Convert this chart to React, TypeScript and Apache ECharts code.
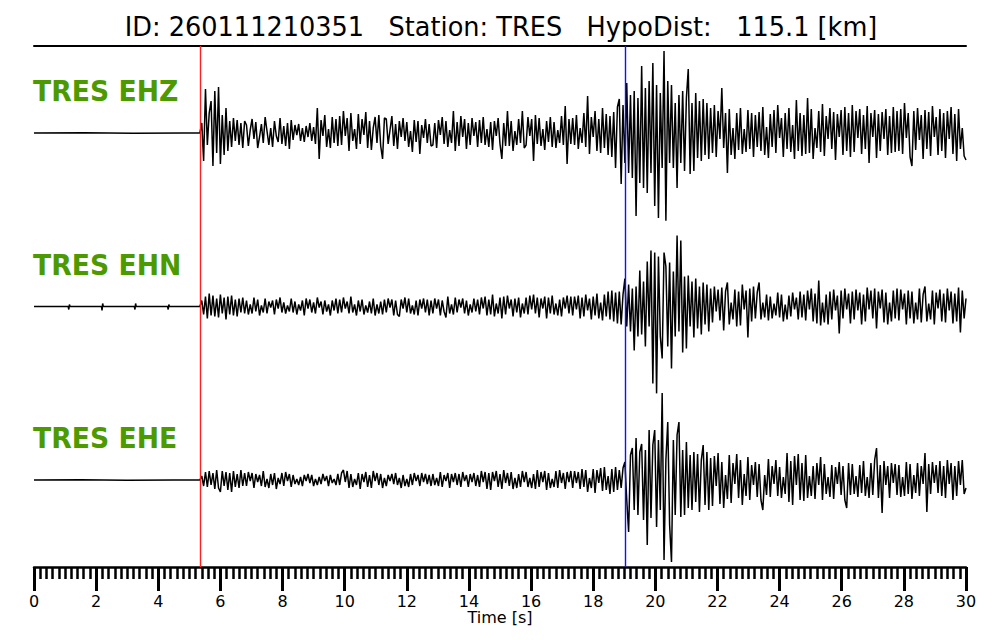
import React, { useEffect, useRef } from "react";
import * as echarts from "echarts";

const TITLE = "ID: 260111210351   Station: TRES   HypoDist:   115.1 [km]";
const CHANNELS = ["TRES EHZ", "TRES EHN", "TRES EHE"];
const T_MIN = 0;
const T_MAX = 30;
const T_TICK = 2;
const P_PICK = 5.34;
const S_PICK = 19.02;
const ONSET = 5.34;
const DT = 0.06;

const EHZ_PRE: [number, number][] = [[0, 0], [1.6, 0.15], [3.2, -0.15], [4.8, 0.1]];
const EHN_PRE: [number, number][] = [
  [0, 0], [1.1, 0], [1.12, -3], [1.14, 2], [1.16, 0], [2.17, 0], [2.19, -4], [2.21, 3], [2.23, 0],
  [3.23, 0], [3.25, -3], [3.27, 3], [3.29, 0], [4.3, 0], [4.32, -3], [4.34, 2], [4.36, 0],
];
const EHE_PRE: [number, number][] = [[0, 0], [1.5, 0.15], [3, -0.15], [4.5, 0.1]];

const EHZ_AMP = [
  0, 10, -28, 44, -12, 20, 32, -33, 42, -20, 46, -31, 18, -22, 25, -18, 12, -14, 15, -8, 13, -12, 10, -15, 12,
  8, -13, 3, 14, -6, 11, -15, -4, 9, -10, 16, 2, -12, 5, -14, 12, -3, -9, 15, -11, 7, -13, 10, -16, 13,
  -7, 8, -2, 9, -8, 5, -9, 7, -4, 10, -8, 6, -11, 25, -26, 13, -3, 18, -14, 4, -15, 16, -10, 14, -13,
  17, -12, 22, -3, 15, -18, 20, -8, 4, -16, 19, -11, 14, -2, 21, -15, 12, -17, 5, 16, -10, 18, -13, -26, 15,
  14, -11, 3, 17, -13, 9, -16, 12, -4, 15, -8, 11, -14, 2, -19, 13, -9, 12, -21, 8, -5, 14, -10, 9, -13,
  -12, 10, -15, 13, -2, 16, -11, 12, -14, 3, -10, 22, -18, 11, -13, 17, -4, 14, -16, 10, -12, 15, -3, 11, -14,
  13, -10, 16, -12, 4, -14, 11, -17, 12, -3, 15, -11, -26, 10, -13, 22, -13, 12, -18, 2, -12, 14, -10, 22, -15,
  -12, 16, -3, 14, -28, 18, -11, 15, -13, 4, -17, 12, -9, 16, -14, 11, -15, 3, -10, 17, -12, 27, -31, 14, -11,
  15, -12, 18, -16, 5, -10, 20, -14, 37, -21, 16, -4, 22, -18, 14, -20, 25, -15, 19, -22, 17, -24, 21, -35, 26,
  34, -51, 28, -30, 50, -40, 38, -45, 42, -83, 35, -50, 67, -55, 45, -60, 52, -40, 70, -73, 48, -85, 40, -35, 82,
  -88, 52, -30, 48, -35, 30, -55, 38, -30, 42, -38, 35, 64, -41, 30, -38, 40, -25, 32, -28, 34, -22, 30, -26, 25,
  -20, 28, -24, 22, -6, 45, -15, 20, -40, 24, -22, 5, -26, 20, -17, 25, -21, 4, -19, 23, -16, 20, -24, 18, -14,
  21, -18, 26, -22, 6, -25, 19, -14, 23, -20, 28, -5, 15, -24, 20, -16, 25, -19, 8, -26, 33, -18, 20, -23, 18,
  -21, 35, -20, 24, -26, 5, -15, 22, -19, 29, -23, 17, -6, 25, -16, 21, -27, 19, -4, 23, -22, 26, -18, 20, -24,
  28, -19, 22, -5, 24, -21, 18, -16, 27, -30, 20, -4, 23, -25, 19, -18, 21, -6, 24, -22, 17, -20, 26, -19, 22,
  -18, 24, -21, 30, -5, 20, -24, -33, 22, -17, 25, -7, 18, -26, 23, -16, 21, -23, 27, -4, 16, -22, 24, -18, 20,
  -25, 22, -6, 26, -21, 19, -28, 24, -16, 5, -23, -27,
];

const EHN_AMP = [
  0, 6, -8, 10, -12, 13, -9, 11, -10, 8, -11, 12, -7, 9, -13, 10, -8, 11, -9, 7, -10, 8, -6, 9, -7,
  6, -8, 2, -7, 9, -5, 7, -9, 1, -6, 8, -7, 5, -1, 6, -8, 7, -2, 9, -6, 4, -7, 1, -5, 8,
  -6, 5, -8, 2, -4, 6, -9, 8, -2, 7, -6, 4, -7, 9, -1, 5, -8, 6, -5, 2, -9, 6, -4, 8, -7,
  7, -6, 9, -2, 5, -7, 10, -6, 2, -9, 6, -5, 7, -8, 1, -6, 5, -7, 8, -9, 2, -7, 5, -8, 7,
  -6, 8, -1, 7, -9, 6, -8, -10, 7, -2, 9, -6, 8, -7, 1, -8, 6, -9, 7, -2, 8, -6, 7, -9, 6,
  -7, 8, -2, 7, -9, 6, -5, -11, 10, -7, 2, -8, 9, -6, 7, -1, 8, -7, 6, -9, 2, -6, 8, -5, 7,
  -8, 9, -2, 10, -9, 7, -8, 12, -10, 3, -7, 9, -12, 10, -8, 11, -2, 7, -10, 8, -6, 9, -11, 3, -7,
  9, -8, 11, -3, 12, -7, 9, -11, 8, -2, 10, -12, 9, -7, 11, -8, 3, -9, 7, -10, 9, -2, 11, -7, 10,
  -9, 10, -3, 11, -12, 9, -10, 12, -4, 8, -13, 10, -9, 13, -12, 4, -14, 12, -10, 15, -13, 16, -15, 14, -17,
  15, -18, 12, 28, -20, 22, -25, 18, -44, 20, -30, 36, -28, 25, -40, 45, -20, 56, -77, 54, -87, 50, -30, -52, 54,
  40, -40, 44, -62, 35, -30, 71, -25, 66, -46, 30, -42, 31, -20, 25, -31, 28, -22, 20, -28, 24, -18, 22, -25, 18,
  -16, 20, -5, 17, -14, 19, -24, 15, 24, -18, 4, -13, 17, -20, 15, -19, 22, -3, 16, -31, 18, -15, 20, -12, 14,
  24, -13, 4, -11, 12, -14, 10, -12, 3, -9, 14, -11, 12, -15, 2, -13, 11, -10, 14, -3, 9, -13, 15, -11, 12,
  -14, 16, -3, 18, -15, 13, -17, 26, -19, 4, -16, 12, -18, 15, -13, 17, -4, 11, -27, 16, -12, 18, -3, 13, -17,
  15, -13, 17, -4, 14, -18, 12, -15, 19, -3, 16, -12, 18, -22, 15, -2, 17, -16, 14, -18, 4, -15, 16, -12, 18,
  -14, 17, -3, 13, -18, 16, -12, 15, -17, 4, -13, 18, -16, 12, 20, -15, 3, -13, 16, -18, 14, -2, 17, -15, 13,
  -16, 18, -4, 15, -17, 13, -15, 19, -26, 16, -12, 8,
];

const EHE_AMP = [
  0, 4, -6, 8, -7, 9, -5, 7, -9, 10, -8, -12, 9, -6, 8, -10, 7, -12, 9, -7, 6, -8, 10, -6, 7,
  -6, 8, -1, 7, -8, 6, -2, 5, -6, 9, -7, 1, -8, 6, -5, 7, -9, 2, -4, 7, -6, 8, -1, 6, -7,
  5, -4, 1, -5, 3, -6, 5, -1, 6, -3, 5, -6, 1, -5, 3, -4, 6, -1, 4, -6, 5, -3, 1, -5, 6,
  -5, 7, 10, -2, 9, -8, 6, -7, 1, -5, 7, -9, 6, -2, 8, -7, 5, -8, 9, -1, 7, -5, 6, -8, 2,
  -6, 5, -1, 6, -4, 7, -5, 2, -8, 5, -6, 1, -7, 6, -5, 7, -1, 5, -6, 7, -2, 6, -4, 5, -6,
  6, -5, 2, -6, 8, -7, 5, -1, 7, -8, 6, -2, 7, -5, 6, -7, 8, -1, 5, -7, 6, -2, 7, -6, 5,
  -7, 9, -2, 8, -9, 7, -10, 8, -1, 9, -7, 6, -9, 10, -3, 7, -6, 8, -9, 2, -8, 6, -7, 9, -2,
  8, -7, 2, -8, 6, -9, 10, -7, 8, -2, 9, -10, 7, -8, 1, -7, 9, -8, 10, -3, 7, -9, 8, -2, 9,
  -8, 9, -3, 8, -9, 11, -7, 10, -12, 2, -8, 11, -13, 10, -3, 12, -11, 13, -10, 4, -14, 11, -12, 13, -10,
  10, -8, 12, 18, -20, -52, 25, 32, -30, 42, -35, 28, 36, -40, 30, -65, 50, -38, 35, 50, -47, 40, -30, 87, -80,
  20, 58, -45, -82, 40, -35, 45, 58, -37, 30, -35, 38, -28, 25, -30, 28, -22, 26, -32, 20, 35, -25, 28, -30, 22,
  -26, 24, -6, 27, -24, 18, -28, 5, -19, 25, -23, 17, -4, 26, -18, 20, -25, 6, -16, 23, -20, 15, -5, 18, -17,
  16, -20, -30, 5, -15, 21, -17, 14, -4, 20, -16, 13, -18, 3, -14, 27, -22, 19, -25, 24, -5, 26, -20, 17, -21,
  25, -18, 4, -16, 14, -19, 17, -5, 23, -20, 16, -14, 3, -17, 15, -19, 13, -4, 18, -15, 14, -20, -28, 17, -15,
  16, -14, 4, -17, 15, -13, 19, -16, 3, -18, 17, -15, 20, 32, -18, 15, -33, 19, -5, 14, -18, 17, -3, 16, -15,
  15, -17, 3, -16, 18, -14, 16, -19, 5, -13, 17, -16, 14, -4, 27, -32, 16, -14, 18, -3, 15, -13, 19, -16, 14,
  -18, 20, -4, 17, -20, 14, -16, 19, -5, 20, -14, -8,
];

const TRACES = [
  { pre: EHZ_PRE, amp: EHZ_AMP },
  { pre: EHN_PRE, amp: EHN_AMP },
  { pre: EHE_PRE, amp: EHE_AMP },
];

const FONT = "'DejaVu Sans', 'Liberation Sans', sans-serif";
const GRIDS = [
  { left: 34, right: 34, top: 46, height: 174 },
  { left: 34, right: 34, top: 220, height: 173 },
  { left: 34, right: 34, top: 393, height: 174 },
];
const LABEL_Y = [91, 265, 438];

export default function App() {
  const ref = useRef<HTMLDivElement>(null);
  useEffect(() => {
    if (!ref.current) return;
    const chart = echarts.init(ref.current, undefined, { renderer: "svg" });

    const series = TRACES.map((tr, i) => ({
      type: "line",
      xAxisIndex: i,
      yAxisIndex: i,
      showSymbol: false,
      symbol: "none",
      silent: true,
      lineStyle: { color: "#000", width: 1.5 },
      data: [
        ...tr.pre,
        ...tr.amp.map((v, k) => [ONSET + k * DT, v]),
      ],
      markLine: {
        silent: true,
        symbol: ["none", "none"],
        label: { show: false },
        data: [
          { xAxis: P_PICK, lineStyle: { color: "#ff2020", width: 1.4, type: "solid" } },
          { xAxis: S_PICK, lineStyle: { color: "#1010ff", width: 1.4, type: "solid" } },
        ],
      },
    }));

    const xAxes = [
      {
        gridIndex: 0, type: "value", min: T_MIN, max: T_MAX, position: "top",
        axisLine: { show: true, onZero: false, lineStyle: { color: "#000", width: 2 } },
        axisTick: { show: false }, axisLabel: { show: false }, splitLine: { show: false },
      },
      { gridIndex: 1, type: "value", min: T_MIN, max: T_MAX, show: false },
      {
        gridIndex: 2, type: "value", min: T_MIN, max: T_MAX, interval: T_TICK, position: "bottom",
        axisLine: { show: true, onZero: false, lineStyle: { color: "#000", width: 2.5 } },
        axisTick: { show: true, length: 24, lineStyle: { color: "#000", width: 3 } },
        minorTick: { show: true, splitNumber: 10, length: 12, lineStyle: { color: "#000", width: 2.5 } },
        axisLabel: { color: "#000", fontSize: 16, fontFamily: FONT, margin: 26 },
        splitLine: { show: false },
        minorSplitLine: { show: false },
        name: "Time [s]",
        nameLocation: "middle",
        nameGap: 41,
        nameTextStyle: { color: "#000", fontSize: 16, fontFamily: FONT },
      },
    ];

    const yAxes = GRIDS.map((g, i) => ({
      gridIndex: i, type: "value", min: -g.height / 2, max: g.height / 2, show: false,
    }));

    const graphic: any[] = [
      {
        type: "text", x: 501, y: 27, scaleX: 0.985, silent: true,
        style: {
          text: TITLE, fill: "#000", font: `26px ${FONT}`,
          textAlign: "center", textVerticalAlign: "middle", align: "center", verticalAlign: "middle",
        },
      },
      ...CHANNELS.map((c, i) => ({
        type: "text", x: 33, y: LABEL_Y[i], scaleX: 0.92, silent: true,
        style: {
          text: c, fill: "#4c9a00", font: `bold 29px ${FONT}`,
          textAlign: "left", textVerticalAlign: "middle", align: "left", verticalAlign: "middle",
        },
      })),
    ];

    chart.setOption({
      animation: false,
      backgroundColor: "#fff",
      grid: GRIDS,
      xAxis: xAxes,
      yAxis: yAxes,
      series,
      graphic,
    } as any);

    return () => chart.dispose();
  }, []);

  return (
    <div
      ref={ref}
      style={{ position: "fixed", left: 0, top: 0, width: 1000, height: 640, background: "#fff" }}
    />
  );
}
